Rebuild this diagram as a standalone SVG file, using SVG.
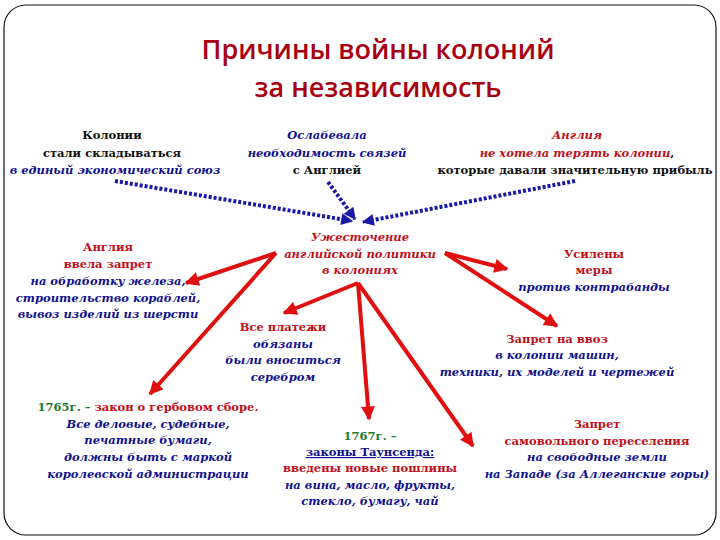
<svg xmlns="http://www.w3.org/2000/svg" width="720" height="540" viewBox="0 0 720 540">
<defs>
<style>
text{font-family:"DejaVu Serif","Liberation Serif",serif;font-size:11.5px;font-weight:bold;text-anchor:middle}
.r{fill:#c0101a}
.b{fill:#101090;font-style:italic}
.k{fill:#111}
.ri{fill:#c0101a;font-style:italic}
.g{fill:#1e7a2e}
.title{font-family:"Open Sans","Noto Sans",sans-serif;font-size:27px;font-weight:600;fill:#a80010}
.red{stroke:#e01010;stroke-width:4;fill:none;marker-end:url(#ra)}
.dot{stroke:#1a1aa8;stroke-width:4;fill:none;stroke-dasharray:3 2;marker-end:url(#ba)}
</style>
<marker id="ra" viewBox="0 0 10 10" refX="9" refY="5" markerWidth="18" markerHeight="14" markerUnits="userSpaceOnUse" orient="auto"><path d="M0,0L10,5L0,10z" fill="#e01010"/></marker>
<marker id="ba" viewBox="0 0 10 10" refX="9" refY="5" markerWidth="14" markerHeight="12" markerUnits="userSpaceOnUse" orient="auto"><path d="M0,0L10,5L0,10z" fill="#1a1aa8"/></marker>
</defs>
<rect x="4" y="5" width="712" height="530" rx="22" fill="#fff" stroke="#111" stroke-width="1.2"/>
<g id="title">
<text class="title" x="378" y="59">Причины войны колоний</text>
<text class="title" x="378" y="97">за независимость</text>
</g>
<g id="connectors">
<path class="dot" d="M115,181L352,221"/>
<path class="dot" d="M328,182L355,219"/>
<path class="dot" d="M575,181L363,222"/>
<path class="red" d="M276,253L186,283"/>
<path class="red" d="M276,253L150,394"/>
<path class="red" d="M358,283L284,313"/>
<path class="red" d="M358,283L369,419"/>
<path class="red" d="M358,283L473,446"/>
<path class="red" d="M445,253L507,269"/>
<path class="red" d="M445,253L557,326"/>
</g>
<g id="n1">
<text class="k" x="112" y="139">Колонии</text>
<text class="k" x="112" y="157">стали складываться</text>
<text class="b" x="115" y="174">в единый экономический союз</text>
</g>
<g id="n2">
<text class="b" x="327" y="139">Ослабевала</text>
<text class="b" x="327" y="157">необходимость связей</text>
<text class="k" x="327" y="174">с Англией</text>
</g>
<g id="n3">
<text class="ri" x="577" y="139">Англия</text>
<text x="577" y="157"><tspan class="ri">не хотела терять колонии</tspan><tspan class="k">,</tspan></text>
<text class="k" x="575" y="174">которые давали значительную прибыль</text>
</g>
<g id="center">
<text class="ri" x="360" y="241">Ужесточение</text>
<text class="ri" x="360" y="258">английской политики</text>
<text class="ri" x="360" y="274">в колониях</text>
</g>
<g id="n4">
<text class="r" x="108" y="251">Англия</text>
<text class="r" x="108" y="268">ввела запрет</text>
<text class="b" x="108" y="285">на обработку железа,</text>
<text class="b" x="108" y="302">строительство кораблей,</text>
<text class="b" x="108" y="318">вывоз изделий из шерсти</text>
</g>
<g id="n5">
<text class="r" x="283" y="331">Все платежи</text>
<text class="b" x="283" y="348">обязаны</text>
<text class="b" x="283" y="364">были вноситься</text>
<text class="b" x="283" y="381">серебром</text>
</g>
<g id="n6">
<text class="r" x="594" y="258">Усилены</text>
<text class="r" x="594" y="274">меры</text>
<text class="b" x="594" y="291">против контрабанды</text>
</g>
<g id="n7">
<text class="r" x="557" y="343">Запрет на ввоз</text>
<text class="b" x="557" y="359">в колонии машин,</text>
<text class="b" x="557" y="376">техники, их моделей и чертежей</text>
</g>
<g id="n8">
<text x="148" y="411"><tspan class="g">1765г. – </tspan><tspan class="r">закон о гербовом сборе.</tspan></text>
<text class="b" x="148" y="428">Все деловые, судебные,</text>
<text class="b" x="148" y="444">печатные бумаги,</text>
<text class="b" x="148" y="461">должны быть с маркой</text>
<text class="b" x="148" y="478">королевской администрации</text>
</g>
<g id="n9">
<text class="g" x="370" y="440">1767г. –</text>
<text class="b" x="370" y="456" style="font-style:normal;text-decoration:underline">законы Таунсенда:</text>
<text class="r" x="370" y="472">введены новые пошлины</text>
<text class="b" x="370" y="489">на вина, масло, фрукты,</text>
<text class="b" x="370" y="505">стекло, бумагу, чай</text>
</g>
<g id="n10">
<text class="r" x="597" y="428">Запрет</text>
<text class="r" x="597" y="445">самовольного переселения</text>
<text class="b" x="597" y="461">на свободные земли</text>
<text class="b" x="597" y="478">на Западе (за Аллеганские горы)</text>
</g>
</svg>
